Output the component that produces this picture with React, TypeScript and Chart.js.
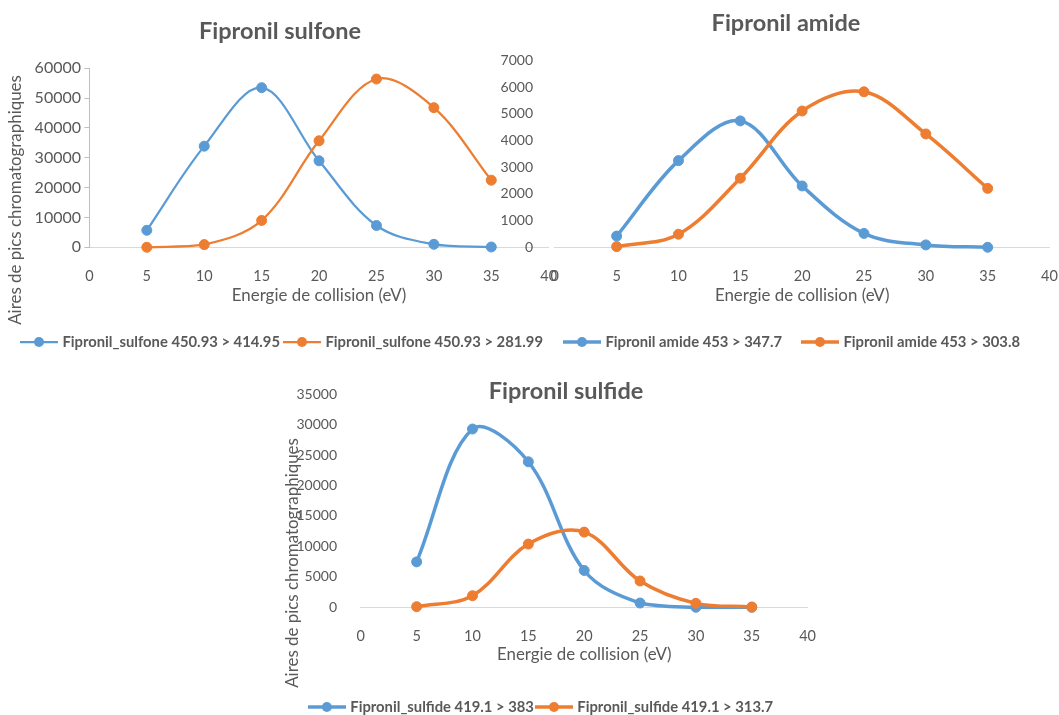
import React, { useEffect, useRef } from 'react';
import { Chart, registerables } from 'chart.js';

Chart.register(...registerables);

// ---------------- DATA ----------------
const energies = [5, 10, 15, 20, 25, 30, 35];

const sulfoneLabels = ['Fipronil_sulfone 450.93 > 414.95', 'Fipronil_sulfone 450.93 > 281.99'];
const sulfone41495 = [5700, 33900, 53500, 29000, 7300, 1000, 100];
const sulfone28199 = [0, 900, 9000, 35700, 56400, 46800, 22500];

const amideLabels = ['Fipronil amide 453 > 347.7', 'Fipronil amide 453 > 303.8'];
const amide3477 = [420, 3250, 4740, 2300, 520, 90, 0];
const amide3038 = [25, 490, 2590, 5110, 5830, 4250, 2210];

const sulfideLabels = ['Fipronil_sulfide 419.1 > 383', 'Fipronil_sulfide 419.1 > 313.7'];
const sulfide383 = [7460, 29280, 23900, 6050, 700, 0, 0];
const sulfide3137 = [100, 1900, 10380, 12350, 4320, 650, 50];

const xRange = [0, 40, 5];
const sulfoneYRange = [0, 60000, 10000];
const amideYRange = [0, 7000, 1000];
const sulfideYRange = [0, 35000, 5000];

const chartTitles = ['Fipronil sulfone', 'Fipronil amide', 'Fipronil sulfide'];
const xTitle = 'Energie de collision (eV)';
const yTitle = 'Aires de pics chromatographiques';

const BLUE = '#5B9BD5';
const ORANGE = '#ED7D31';
const TEXT = '#595959';
const FONT = 'Lato';

// ---------------- LAYOUT ----------------
type Spec = {
  canvas: { left: number; top: number; width: number; height: number };
  plot: { left: number; right: number; top: number; bottom: number };
  legend: { cx: number; cy: number; halfW: number; pad: number; font: number };
  title: { text: string; x: number; y: number };
  yTitle: { x: number; y: number } | null;
  xTickY: number;
  xTitleY: number;
  yLabelRight: number;
  yAxisLine: boolean;
  yTickFont: number;
  xTickFont: number;
  axisTitleFont: number;
  lineWidth: number;
  yRange: number[];
  series: { label: string; values: number[]; color: string }[];
};

const specs: Spec[] = [
  {
    canvas: { left: -40, top: 0, width: 640, height: 360 },
    plot: { left: 89.4, right: 548.7, top: 68.3, bottom: 247.3 },
    legend: { cx: 283, cy: 342, halfW: 300, pad: 6, font: 14.8 },
    title: { text: chartTitles[0], x: 280, y: 31 },
    yTitle: { x: 16, y: 200 },
    xTickY: 268,
    xTitleY: 296,
    yLabelRight: 81,
    yAxisLine: true,
    yTickFont: 16,
    xTickFont: 14.5,
    axisTitleFont: 16.9,
    lineWidth: 2.25,
    yRange: sulfoneYRange,
    series: [
      { label: sulfoneLabels[0], values: sulfone41495, color: BLUE },
      { label: sulfoneLabels[1], values: sulfone28199, color: ORANGE },
    ],
  },
  {
    canvas: { left: 440, top: 0, width: 660, height: 360 },
    plot: { left: 554.8, right: 1049.5, top: 60.6, bottom: 247.3 },
    legend: { cx: 793, cy: 342, halfW: 292, pad: 22, font: 14.8 },
    title: { text: chartTitles[1], x: 786, y: 23 },
    yTitle: null,
    xTickY: 268,
    xTitleY: 296,
    yLabelRight: 541,
    yAxisLine: false,
    yTickFont: 14,
    xTickFont: 14.5,
    axisTitleFont: 16.9,
    lineWidth: 3.5,
    yRange: amideYRange,
    series: [
      { label: amideLabels[0], values: amide3477, color: BLUE },
      { label: amideLabels[1], values: amide3038, color: ORANGE },
    ],
  },
  {
    canvas: { left: 230, top: 370, width: 640, height: 354 },
    plot: { left: 360.8, right: 807.6, top: 389, bottom: 607.3 },
    legend: { cx: 542, cy: 707, halfW: 280, pad: 4, font: 14.8 },
    title: { text: chartTitles[2], x: 566, y: 391 },
    yTitle: { x: 293, y: 563 },
    xTickY: 628,
    xTitleY: 655,
    yLabelRight: 345,
    yAxisLine: false,
    yTickFont: 14,
    xTickFont: 14.5,
    axisTitleFont: 16.9,
    lineWidth: 3.5,
    yRange: sulfideYRange,
    series: [
      { label: sulfideLabels[0], values: sulfide383, color: BLUE },
      { label: sulfideLabels[1], values: sulfide3137, color: ORANGE },
    ],
  },
];

function makeLegendImage(color: string, lw: number, r: number) {
  const c = document.createElement('canvas');
  c.width = 38;
  c.height = 14;
  const g = c.getContext('2d')!;
  g.strokeStyle = color;
  g.lineWidth = lw;
  g.beginPath();
  g.moveTo(0, 7);
  g.lineTo(38, 7);
  g.stroke();
  g.fillStyle = color;
  g.beginPath();
  g.arc(19, 7, r, 0, Math.PI * 2);
  g.fill();
  return c;
}

const overlayText = {
  id: 'overlayText',
  afterDraw(chart: any, _args: any, opts: any) {
    const ctx = chart.ctx;
    (opts.items || []).forEach((it: any) => {
      ctx.save();
      ctx.font = it.font;
      ctx.fillStyle = it.color;
      ctx.textAlign = 'center';
      ctx.textBaseline = 'middle';
      ctx.translate(it.x, it.y);
      if (it.rotate) ctx.rotate(it.rotate);
      ctx.fillText(it.text, 0, 0);
      ctx.restore();
    });
  },
};

function buildConfig(s: Spec): any {
  const c = s.canvas;
  const boxL = s.legend.cx - s.legend.halfW;
  const boxR = s.legend.cx + s.legend.halfW;
  const padL = boxL - c.left;
  const padR = c.left + c.width - boxR;
  const padT = s.plot.top - c.top;
  const padB = c.height - (s.legend.cy - c.top) - 10 - s.legend.font / 2;
  const legendH = s.legend.font + s.legend.pad + 10;
  const legendTop = c.height - padB - legendH;
  const xAxisH = legendTop - (s.plot.bottom - c.top);
  const yW = s.plot.left - boxL;
  const rW = boxR - s.plot.right;
  const yTickLen = s.yAxisLine ? 5 : 0;
  const yTickPad = s.plot.left - s.yLabelRight - yTickLen;
  const xTickPad = s.xTickY - s.plot.bottom - (s.xTickFont * 1.2) / 2;
  const xTitlePadB = legendTop - (s.xTitleY - c.top) - (s.axisTitleFont * 1.2) / 2;

  const items: any[] = [
    {
      text: s.title.text,
      x: s.title.x - c.left,
      y: s.title.y - c.top,
      font: `bold 23.5px ${FONT}`,
      color: TEXT,
    },
  ];
  if (s.yTitle) {
    items.push({
      text: yTitle,
      x: s.yTitle.x - c.left,
      y: s.yTitle.y - c.top,
      font: `${s.axisTitleFont}px ${FONT}`,
      color: TEXT,
      rotate: -Math.PI / 2,
    });
  }

  const images = s.series.map((sr) => makeLegendImage(sr.color, s.lineWidth, 5));
  const plain = (v: any) => String(v);

  return {
    type: 'line',
    data: {
      datasets: s.series.map((sr, i) => ({
        label: sr.label,
        data: energies.map((x, k) => ({ x, y: sr.values[k] })),
        borderColor: sr.color,
        backgroundColor: sr.color,
        pointBackgroundColor: sr.color,
        pointBorderColor: sr.color,
        pointRadius: 5,
        pointBorderWidth: 1,
        borderWidth: s.lineWidth,
        tension: 0.35,
        fill: false,
        clip: false,
        order: i === 0 ? 1 : 0,
      })),
    },
    options: {
      responsive: false,
      animation: false,
      events: [],
      layout: { padding: { left: padL, right: padR, top: padT, bottom: padB } },
      scales: {
        x: {
          type: 'linear',
          position: 'bottom',
          min: xRange[0],
          max: xRange[1],
          afterFit: (sc: any) => {
            sc.height = xAxisH;
          },
          ticks: {
            stepSize: xRange[2],
            autoSkip: false,
            maxRotation: 0,
            padding: xTickPad,
            color: TEXT,
            font: { family: FONT, size: s.xTickFont },
            callback: plain,
          },
          grid: { display: false },
          border: { display: true, color: '#D9D9D9', width: 1 },
          title: {
            display: true,
            text: xTitle,
            color: TEXT,
            font: { family: FONT, size: s.axisTitleFont },
            padding: { top: 0, bottom: xTitlePadB },
          },
        },
        y: {
          type: 'linear',
          position: 'left',
          min: s.yRange[0],
          max: s.yRange[1],
          afterFit: (sc: any) => {
            sc.width = yW;
          },
          ticks: {
            stepSize: s.yRange[2],
            autoSkip: false,
            padding: yTickPad,
            color: TEXT,
            font: { family: FONT, size: s.yTickFont },
            callback: plain,
          },
          grid: s.yAxisLine
            ? { display: true, drawOnChartArea: false, drawTicks: true, tickLength: 5, color: '#BFBFBF' }
            : { display: false },
          border: { display: s.yAxisLine, color: '#BFBFBF', width: 1 },
        },
        yR: {
          type: 'linear',
          position: 'right',
          min: 0,
          max: 1,
          afterFit: (sc: any) => {
            sc.width = rW;
          },
          ticks: { display: false },
          grid: { display: false },
          border: { display: false },
        },
      },
      plugins: {
        title: { display: false },
        tooltip: { enabled: false },
        legend: {
          display: true,
          position: 'bottom',
          align: 'center',
          labels: {
            usePointStyle: true,
            pointStyleWidth: 32,
            padding: s.legend.pad,
            color: TEXT,
            font: { family: FONT, size: s.legend.font, weight: 'bold' },
            generateLabels: (chart: any) =>
              chart.data.datasets.map((ds: any, i: number) => ({
                text: ds.label,
                fillStyle: ds.borderColor,
                strokeStyle: ds.borderColor,
                fontColor: TEXT,
                lineWidth: 0,
                pointStyle: images[i],
                hidden: false,
                datasetIndex: i,
              })),
          },
        },
        overlayText: { items },
      },
    },
    plugins: [overlayText],
  };
}

function ChartCanvas({ spec }: { spec: Spec }) {
  const ref = useRef<HTMLCanvasElement>(null);
  useEffect(() => {
    if (!ref.current) return;
    const chart = new Chart(ref.current, buildConfig(spec));
    return () => chart.destroy();
  }, [spec]);
  const c = spec.canvas;
  return (
    <canvas
      ref={ref}
      width={c.width}
      height={c.height}
      style={{ position: 'absolute', left: c.left, top: c.top, width: c.width, height: c.height }}
    />
  );
}

export default function App() {
  return (
    <div
      style={{
        position: 'fixed',
        left: 0,
        top: 0,
        width: 1059,
        height: 715,
        overflow: 'hidden',
        background: '#FFFFFF',
      }}
    >
      {specs.map((s, i) => (
        <ChartCanvas key={i} spec={s} />
      ))}
    </div>
  );
}
